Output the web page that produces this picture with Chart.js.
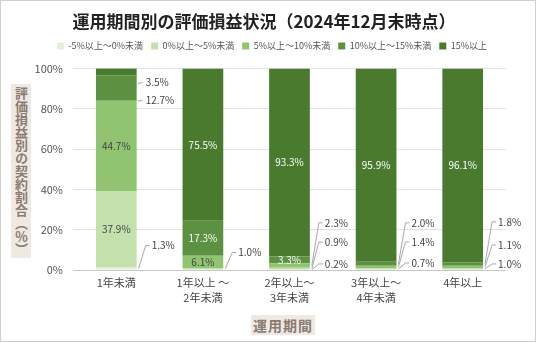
<!DOCTYPE html>
<html><head><meta charset="utf-8">
<script src="https://cdn.jsdelivr.net/npm/chart.js@4/dist/chart.umd.min.js"></script>
<style>
html,body{margin:0;padding:0;background:#fff;}
#wrap{position:relative;width:536px;height:342px;}
canvas{position:absolute;left:0;top:0;}
.axt{position:absolute;background:#efe9e4;color:#8b7b70;font-family:"Noto Sans CJK JP",sans-serif;font-weight:bold;display:flex;align-items:center;justify-content:center;}
#yt{left:11px;top:84px;width:20px;height:174px;font-size:13px;writing-mode:vertical-rl;line-height:20px;}
#xt{left:251px;top:315px;width:64px;height:20px;font-size:14px;letter-spacing:1px;}
</style></head>
<body>
<div id="wrap">
<canvas id="c" width="536" height="342"></canvas>
<div class="axt" id="yt">評価損益別の契約割合（％）</div>
<div class="axt" id="xt">運用期間</div>
</div>
<script>
const categories = [['1年未満'], ['1年以上 ～', '2年未満'], ['2年以上～', '3年未満'], ['3年以上～', '4年未満'], ['4年以上']];
const seriesNames = ['-5%以上～0%未満', '0%以上～5%未満', '5%以上～10%未満', '10%以上～15%未満', '15%以上'];
const lossMinus5to0 = [1.3, 0, 0.2, 0, 0];
const gain0to5 = [37.9, 1.0, 0.9, 0.7, 1.0];
const gain5to10 = [44.7, 6.1, 2.3, 1.4, 1.1];
const gain10to15 = [12.7, 17.3, 3.3, 2.0, 1.8];
const gain15plus = [3.5, 75.5, 93.3, 95.9, 96.1];
const yTicks = [0, 20, 40, 60, 80, 100];

const FONT = '"Noto Sans CJK JP", "Noto Sans", sans-serif';
Chart.defaults.font.family = FONT;
const colors = ['#e2efd9', '#c3e0ad', '#90c470', '#5b9140', '#4a7a2e'];
const insideText = ['#444', '#444', '#444', '#fff', '#fff'];

// callouts: dataset index, category index, label level (in axis %)
const callouts = [
  {ds:0, idx:0, at:12.1}, {ds:3, idx:0, at:84.2, tight:true}, {ds:4, idx:0, at:93.0, tight:true},
  {ds:1, idx:1, at:8.7},
  {ds:0, idx:2, at:3.0}, {ds:1, idx:2, at:13.9}, {ds:2, idx:2, at:23.4},
  {ds:1, idx:3, at:3.5}, {ds:2, idx:3, at:13.9}, {ds:3, idx:3, at:23.4},
  {ds:1, idx:4, at:3.0}, {ds:2, idx:4, at:12.4}, {ds:3, idx:4, at:23.9}
];

const valueLabels = {
  id: 'valueLabels',
  beforeInit(chart) {
    const lg = chart.legend;
    if (lg && !lg._patched) {
      const fit = lg.fit;
      lg.fit = function () { fit.call(this); this.height += 8; };
      lg._patched = true;
    }
  },
  afterLayout(chart) {
    const lg = chart.legend;
    if (lg) { lg.left += 8; lg.right += 8; }
  },
  afterDatasetsDraw(chart) {
    const ctx = chart.ctx, ys = chart.scales.y;
    ctx.save();
    ctx.font = '10px ' + FONT;
    ctx.textBaseline = 'middle';
    chart.data.datasets.forEach((ds, di) => {
      const meta = chart.getDatasetMeta(di);
      meta.data.forEach((bar, i) => {
        const v = ds.data[i];
        if (!v) return;
        const p = bar.getProps(['x', 'y', 'base', 'width'], true);
        const segY = (p.y + p.base) / 2;
        const text = v.toFixed(1) + '%';
        const co = callouts.find(c => c.ds === di && c.idx === i);
        if (co) {
          const right = p.x + p.width / 2;
          const ly = ys.getPixelForValue(co.at);
          ctx.strokeStyle = '#a8a8a8'; ctx.lineWidth = 1;
          ctx.beginPath();
          if (co.tight) {
            ctx.moveTo(right + 1, ly + 1);
            ctx.lineTo(right + 6, ly);
          } else {
            ctx.moveTo(right + 2, segY);
            ctx.lineTo(right + 9, ly);
            ctx.lineTo(right + 13, ly);
          }
          ctx.stroke();
          ctx.fillStyle = '#444'; ctx.textAlign = 'left';
          ctx.fillText(text, right + (co.tight ? 9 : 15), ly);
        } else {
          ctx.fillStyle = insideText[di]; ctx.textAlign = 'center';
          ctx.fillText(text, p.x, segY);
        }
      });
    });
    ctx.restore();
  },
  afterDraw(chart) {
    const ctx = chart.ctx;
    ctx.save();
    ctx.strokeStyle = '#d0d0d0'; ctx.lineWidth = 1;
    ctx.strokeRect(0.5, 0.5, chart.width - 1, chart.height - 1);
    ctx.restore();
  }
};

const seriesData = [lossMinus5to0, gain0to5, gain5to10, gain10to15, gain15plus];
new Chart(document.getElementById('c'), {
  type: 'bar',
  data: {
    labels: categories,
    datasets: seriesNames.map((n, k) => ({
      label: n, data: seriesData[k], backgroundColor: colors[k],
      borderWidth: 0, barPercentage: 0.94, categoryPercentage: 0.5
    }))
  },
  options: {
    responsive: false, animation: false,
    layout: { padding: { left: 22, right: 30, top: 0, bottom: 0 } },
    plugins: {
      tooltip: { enabled: false },
      title: {
        display: true, text: '運用期間別の評価損益状況（2024年12月末時点）',
        color: '#222', font: { size: 17, weight: 'bold', family: FONT },
        padding: { top: 11, bottom: 2 }
      },
      legend: {
        position: 'top',
        labels: { boxWidth: 7, boxHeight: 7, color: '#555', font: { size: 9, family: FONT }, padding: 8 }
      }
    },
    scales: {
      x: {
        stacked: true,
        grid: { display: false, drawTicks: false, tickLength: 0 },
        border: { display: false },
        ticks: { color: '#444', font: { size: 11, lineHeight: 1.3 }, padding: 6, maxRotation: 0, autoSkip: false },
        afterFit(s) { s.height = 72; }
      },
      y: {
        stacked: true, min: 0, max: 100,
        afterBuildTicks(s) { s.ticks = yTicks.map(v => ({ value: v })); },
        ticks: { color: '#555', font: { size: 11 }, padding: 10, callback: v => v + '%' },
        grid: { color: ctx => ctx.tick && ctx.tick.value === 0 ? '#c8c8c8' : '#e2e2e2', drawTicks: false },
        border: { display: false },
        afterFit(s) { s.width = 51; }
      }
    }
  },
  plugins: [valueLabels]
});
</script>
</body></html>
